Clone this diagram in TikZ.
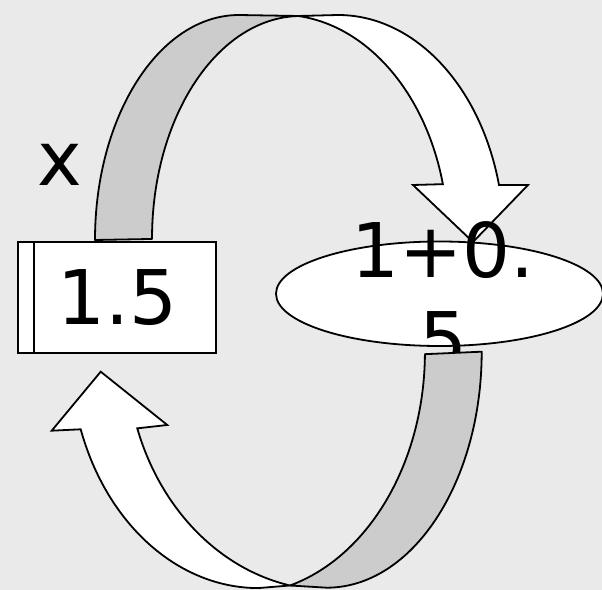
\documentclass[tikz,border=0pt]{standalone}
\usepackage{fontspec}
\setmainfont{DejaVu Sans}
\usetikzlibrary{shapes.geometric}
\definecolor{canvas}{HTML}{EAEAEA}
\definecolor{band}{HTML}{CCCCCC}
\newcommand{\bigtext}{\fontsize{37.7pt}{44.4pt}\selectfont}
\tikzstyle{valbox} = [rectangle, 
draw=black, 
fill=white, 
line width=1.1pt, 
minimum width=98.85pt, 
minimum height=55.65pt, 
inner sep=0pt, outer sep=0pt, 
font=\bigtext]
\tikzstyle{calcell} = [ellipse, draw=black, fill=white, line width=0.9pt, 
minimum width=163.5pt, minimum height=52.25pt, inner sep=0pt, outer sep=0pt]
\tikzstyle{label} = [font=\bigtext, inner sep=0pt, align=center]
\tikzstyle{back} = [fill=band, draw=black, line width=0.9pt, line join=round]
\tikzstyle{front} = [fill=white, draw=black, line width=0.9pt]

\begin{document}
\begin{tikzpicture}[x=0.5pt, y=0.5pt]

				% Canvas
				\useasboundingbox (0,0) rectangle (602,590);
				\fill[canvas] (0,0) rectangle (602,590);

				% Upper curved arrow (box to ellipse)
				\filldraw[back] (95,350) arc[start angle=180, end angle=90, x radius=144, y radius=225] -- (298.3,574) arc[start angle=91.04, end angle=180, x radius=149, y radius=223] -- cycle;
				\filldraw[front] (298.3,574) arc[start angle=83.75, end angle=14.18, x radius=168, y radius=224.5] -- (413,405) -- (473,348) -- (528,405) -- (499,405) arc[start angle=14.15, end angle=90, x radius=166, y radius=225] -- cycle;

				% Variable and expression
				\node[valbox] (xbox) at (117.15,292.65) {1.5};
				\draw[line width=1.1pt] ([xshift=8pt]xbox.north west) -- ([xshift=8pt]xbox.south west);
				\node[label] (xname) at (59.5,425) {x};
				\node[calcell] (calc) at (439.5,296.25) {};
				\node[label] (calctext) at (443,295.3) {1+0.\\5};

				% Lower curved arrow (ellipse back to box)
				\filldraw[back] (481.7,238.3) arc[start angle=0, end angle=-90, x radius=155, y radius=236] -- (290,4.5) arc[start angle=-74.3, end angle=-0.5, x radius=185, y radius=242.5] -- cycle;
				\filldraw[front] (290,4.5) arc[start angle=258.55, end angle=198.7, x radius=204, y radius=238.3] -- (167.3,165) -- (100.7,218.3) -- (51.7,159.3) -- (80.7,160.7) arc[start angle=199.1, end angle=270, x radius=188, y radius=236] -- cycle;

\end{tikzpicture}
\end{document}
